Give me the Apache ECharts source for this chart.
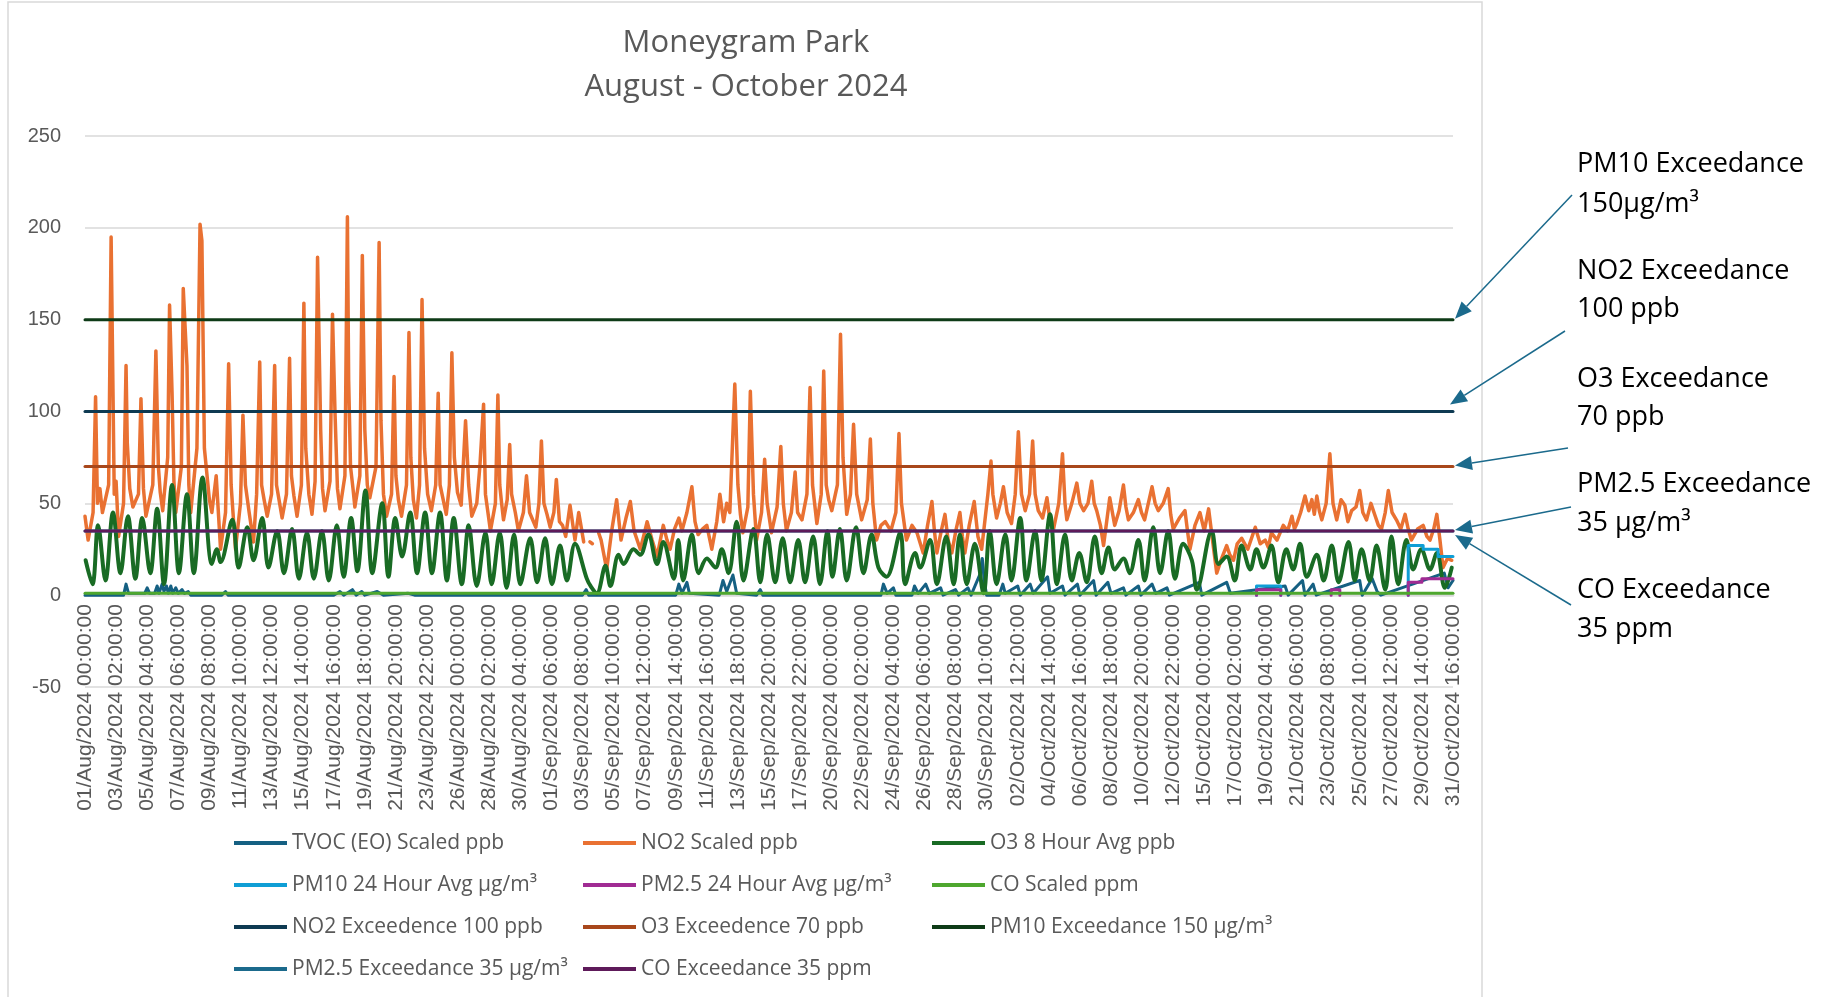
<!DOCTYPE html>
<html>
<head>
<meta charset="utf-8">
<script src="https://cdn.jsdelivr.net/npm/echarts@6.0.0/dist/echarts.min.js"></script>
<style>
  html, body { margin: 0; padding: 0; background: #fff; }
  #main { width: 1840px; height: 997px; }
</style>
</head>
<body>
<div id="main"></div>
<script>
// hours counted from 01/Aug/2024 00:00, one label every 50 hours
var tickLabels = [
  '01/Aug/2024 00:00:00', '03/Aug/2024 02:00:00', '05/Aug/2024 04:00:00', '07/Aug/2024 06:00:00', '09/Aug/2024 08:00:00',
  '11/Aug/2024 10:00:00', '13/Aug/2024 12:00:00', '15/Aug/2024 14:00:00', '17/Aug/2024 16:00:00', '19/Aug/2024 18:00:00',
  '21/Aug/2024 20:00:00', '23/Aug/2024 22:00:00', '26/Aug/2024 00:00:00', '28/Aug/2024 02:00:00', '30/Aug/2024 04:00:00',
  '01/Sep/2024 06:00:00', '03/Sep/2024 08:00:00', '05/Sep/2024 10:00:00', '07/Sep/2024 12:00:00', '09/Sep/2024 14:00:00',
  '11/Sep/2024 16:00:00', '13/Sep/2024 18:00:00', '15/Sep/2024 20:00:00', '17/Sep/2024 22:00:00', '20/Sep/2024 00:00:00',
  '22/Sep/2024 02:00:00', '24/Sep/2024 04:00:00', '26/Sep/2024 06:00:00', '28/Sep/2024 08:00:00', '30/Sep/2024 10:00:00',
  '02/Oct/2024 12:00:00', '04/Oct/2024 14:00:00', '06/Oct/2024 16:00:00', '08/Oct/2024 18:00:00', '10/Oct/2024 20:00:00',
  '12/Oct/2024 22:00:00', '15/Oct/2024 00:00:00', '17/Oct/2024 02:00:00', '19/Oct/2024 04:00:00', '21/Oct/2024 06:00:00',
  '23/Oct/2024 08:00:00', '25/Oct/2024 10:00:00', '27/Oct/2024 12:00:00', '29/Oct/2024 14:00:00', '31/Oct/2024 16:00:00'
];
var labelStep = 50;
var lastHour = 2200;

// [hour, value]
var no2 = [
  [0,43],[5,30],[13,45],[17,108],[20,50],[24,58],[28,45],[38,60],[42,195],[47,55],[50,62],[54,32],[62,50],[66,125],[68,83],[72,58],[77,48],
  [86,55],[90,107],[94,58],[98,43],[109,60],[114,133],[118,70],[121,56],[125,46],[133,75],[136,158],[140,110],[143,62],[146,45],[155,70],[158,167],
  [164,125],[167,60],[170,45],[180,80],[185,202],[188,193],[192,80],[196,66],[200,52],[204,45],[211,65],[218,25],[226,45],[231,126],[235,60],[238,45],[242,25],
  [250,50],[254,98],[258,60],[264,45],[271,29],[276,55],[281,127],[284,60],[288,52],[293,43],[300,55],[305,125],[308,60],[312,52],[317,42],[324,55],[329,129],[332,65],[336,54],[341,43],
  [348,60],[352,159],[355,80],[360,55],[365,44],[370,62],[374,184],[379,90],[382,58],[386,46],[394,62],[398,153],[402,100],[406,58],[410,47],[418,65],[422,206],[424,117],[427,70],[431,58],[434,48],
  [442,65],[446,185],[450,90],[454,60],[458,53],[468,70],[473,192],[476,95],[480,55],[485,43],[493,55],[497,119],[500,65],[504,52],[509,43],[517,60],[521,143],[524,75],[528,52],[533,42],[538,60],[542,161],
  [546,80],[551,55],[557,46],[564,60],[568,110],[571,60],[576,52],[581,44],[586,60],[590,132],[594,75],[599,56],[605,49],[612,95],[617,60],[622,43],[630,50],[635,70],[641,104],
  [644,55],[648,45],[652,35],[660,50],[664,109],[667,60],[670,50],[673,41],[679,52],[683,82],[686,55],[692,45],[697,35],[705,45],[710,65],[715,45],[725,37],[730,50],[734,84],[738,50],
  [743,44],[748,37],[754,45],[758,63],[763,40],[768,38],[773,32],[780,49],[788,30],[794,45],[802,29],[806,'-'],[812,29],[816,28],[818,'-'],[826,34],
  [830,30],[839,14],[847,35],[855,52],[862,30],[870,42],[877,51],[883,35],[893,25],[899,33],[904,40],[912,30],[920,21],[930,38],[936,30],[941,25],
  [948,36],[955,42],[960,35],[968,45],[976,59],[981,40],[986,33],[993,36],[1000,38],[1008,25],[1016,40],[1021,55],[1027,40],[1032,50],[1037,45],[1045,115],[1050,60],
  [1054,44],[1058,34],[1066,48],[1070,111],[1075,55],[1080,30],[1088,45],[1093,74],[1097,50],[1104,34],[1113,48],[1119,81],[1123,50],[1128,35],[1136,45],[1142,67],[1146,45],
  [1153,41],[1161,55],[1166,113],[1170,60],[1177,39],[1184,55],[1188,122],[1192,60],[1196,52],[1201,46],[1210,60],[1215,142],[1219,75],[1225,44],[1231,55],[1236,93],[1241,55],
  [1249,41],[1258,52],[1263,85],[1267,50],[1273,30],[1280,38],[1287,40],[1296,35],[1304,45],[1309,88],[1313,50],[1321,30],[1330,38],[1338,34],[1348,23],[1355,38],[1362,51],
  [1366,35],[1370,23],[1377,35],[1383,44],[1388,30],[1394,23],[1401,36],[1407,45],[1411,32],[1415,23],[1422,38],[1430,51],[1436,32],[1442,25],[1452,55],[1457,73],[1460,55],[1466,42],[1472,50],[1477,59],
  [1483,45],[1490,39],[1496,55],[1501,89],[1506,55],[1512,46],[1519,55],[1524,84],[1528,55],[1533,46],[1540,42],[1547,53],[1552,40],[1557,35],[1566,50],[1572,77],[1576,50],[1579,41],
  [1587,50],[1595,61],[1600,50],[1606,46],[1613,50],[1619,62],[1623,50],[1627,46],[1633,38],[1638,27],[1643,40],[1648,53],[1656,38],[1663,46],[1670,60],[1674,48],[1678,41],[1686,45],[1694,52],[1699,45],[1704,41],[1710,50],[1716,59],
  [1721,50],[1726,46],[1734,50],[1742,58],[1746,44],[1750,36],[1760,42],[1769,46],[1773,35],[1777,25],[1785,38],[1793,45],[1800,35],[1807,47],[1814,28],[1820,12],[1828,20],[1836,27],[1841,22],[1847,19],[1853,28],[1860,31],[1870,25],[1882,37],
  [1890,28],[1898,30],[1903,26],[1908,34],[1917,30],[1927,38],[1934,35],[1941,43],[1945,36],[1949,39],[1955,45],[1962,54],[1968,46],[1973,52],[1977,44],[1981,54],[1985,46],[1989,41],[1996,50],[2002,77],[2007,50],[2013,41],[2020,52],[2026,49],
  [2031,40],[2037,46],[2044,48],[2050,57],[2055,45],[2061,41],[2068,50],[2075,43],[2080,38],[2085,36],[2091,45],[2096,57],[2102,45],[2109,41],[2116,36],[2123,44],[2128,36],[2133,30],[2143,36],[2152,38],[2158,32],[2163,30],[2169,36],[2174,44],
  [2179,30],[2184,15],[2191,20],[2198,19]
];

var o3 = [
  [1,19],[12,6],[21,38],[33,8],[45,45],[57,12],[69,43],[81,9],[92,42],[105,12],[116,47],[127,6],[140,60],[151,12],[164,55],
  [175,12],[189,64],[204,17],[212,25],[218,18],[237,41],[247,15],[261,37],[271,19],[285,42],[295,15],[309,35],[320,12],
  [333,36],[344,9],[357,34],[368,9],[381,35],[392,8],[405,38],[416,10],[428,42],[438,13],[451,57],[462,12],[478,50],[488,10],
  [499,42],[510,21],[523,45],[534,12],[547,45],[558,12],[571,45],[582,8],[593,42],[606,6],[617,38],[630,5],[644,34],[654,6],
  [667,34],[678,4],[690,33],[700,6],[716,31],[727,7],[740,31],[751,6],[764,27],[775,8],[788,28],[807,9],[813,5],[823,1],
  [837,16],[845,5],[858,22],[866,17],[882,25],[893,22],[906,33],[920,17],[930,29],[947,9],[954,30],[962,8],[976,33],[987,12],
  [1000,20],[1014,15],[1024,25],[1035,12],[1048,40],[1059,8],[1075,36],[1086,7],[1097,33],[1110,7],[1122,31],[1134,7],
  [1147,30],[1158,7],[1171,32],[1182,6],[1194,35],[1202,10],[1214,36],[1225,8],[1240,37],[1252,12],[1265,33],[1276,15],
  [1289,10],[1311,34],[1319,6],[1335,23],[1343,15],[1359,30],[1370,6],[1385,32],[1397,6],[1407,33],[1418,6],[1431,28],
  [1445,1],[1455,35],[1466,6],[1480,33],[1490,8],[1504,42],[1514,8],[1528,35],[1538,8],[1552,44],[1563,6],[1576,33],[1587,8],
  [1599,23],[1611,7],[1624,32],[1635,12],[1646,26],[1656,14],[1670,20],[1680,12],[1694,30],[1704,8],[1718,37],[1729,12],
  [1742,35],[1753,9],[1766,28],[1780,19],[1788,3],[1812,35],[1823,17],[1836,21],[1849,8],[1860,27],[1874,14],[1884,25],
  [1895,15],[1908,27],[1919,7],[1932,25],[1943,14],[1954,28],[1965,10],[1981,22],[1992,8],[2005,27],[2016,7],[2032,29],
  [2042,8],[2053,25],[2066,8],[2077,27],[2091,3],[2101,32],[2112,6],[2125,30],[2136,14],[2149,25],[2163,14],[2174,23],
  [2187,4],[2198,15]
];

var tvoc = [
  [0,0],[62,0],[66,6],[70,1],[96,1],[100,4],[104,1],[112,1],[116,5],[119,1],[124,6],[127,2],[131,5],[134,1],[138,5],[141,1],
  [146,4],[150,1],[156,3],[160,1],[166,2],[170,0],[220,0],[226,2],[230,0],[400,0],[410,2],[416,0],[430,3],[436,0],[445,2],
  [450,0],[470,2],[480,0],[520,1],[530,0],[800,0],[806,3],[810,0],[950,0],[955,6],[960,1],[968,7],[972,1],[1020,0],[1026,8],
  [1032,2],[1042,11],[1048,1],[1080,0],[1086,3],[1090,0],[1280,0],[1284,6],[1290,1],[1300,4],[1304,0],[1330,0],[1334,5],
  [1340,1],[1352,6],[1358,1],[1376,4],[1380,0],[1400,3],[1405,0],[1420,4],[1425,0],[1440,12],[1443,20],[1446,8],[1450,0],
  [1470,0],[1476,6],[1480,1],[1500,5],[1504,0],[1520,6],[1525,1],[1548,10],[1552,1],[1572,5],[1576,0],[1596,6],[1600,0],
  [1622,8],[1626,0],[1645,7],[1650,1],[1670,4],[1674,0],[1694,5],[1698,0],[1716,6],[1722,1],[1740,4],[1744,0],[1792,7],
  [1796,0],[1836,7],[1842,1],[1930,5],[1935,0],[1958,8],[1962,0],[1975,6],[1980,0],[2050,8],[2054,0],[2070,9],[2078,2],
  [2084,0],[2186,12],[2192,4],[2200,8]
];

var pm10 = [[1884,0],[1884,5],[1923,5],[1923,0],[1924,'-'],[2128,0],[2128,27],[2152,27],[2152,25],[2176,25],[2176,21],[2200,21]];
var pm25 = [[1884,0],[1884,3],[1923,3],[1923,0],[1924,'-'],[2004,0],[2004,3],[2018,3],[2018,0],[2019,'-'],
            [2128,0],[2128,7],[2150,7],[2150,9],[2200,9]];
var co = [[0,1],[550,1],[1100,1],[1650,1],[2200,1]];

var limitNames = ['NO2 Exceedence 100 ppb', 'O3 Exceedence 70 ppb', 'PM10 Exceedance 150 µg/m³',
                  'PM2.5 Exceedance 35 µg/m³', 'CO Exceedance 35 ppm'];
var limitValues = [100, 70, 150, 35, 35];
var limitColors = ['#0E3A52', '#A8471B', '#0E3B17', '#1B6A8C', '#5E1A5A'];

var myChart = echarts.init(document.getElementById('main'));

function line(name, data, color, width, extra) {
    var s = {
        name: name, type: 'line', data: data, symbol: 'none', color: color,
        lineStyle: { width: width, color: color, cap: 'round', join: 'round' },
        connectNulls: false, silent: true
    };
    for (var k in extra) s[k] = extra[k];
    return s;
}

var series = [
    line('TVOC (EO) Scaled ppb', tvoc, '#156082', 3),
    line('NO2 Scaled ppb', no2, '#E97132', 3.5),
    line('O3 8 Hour Avg ppb', o3, '#196B24', 4, { smooth: 0.35 }),
    line('PM10 24 Hour Avg µg/m³', pm10, '#0F9ED5', 3),
    line('PM2.5 24 Hour Avg µg/m³', pm25, '#A02B93', 3),
    line('CO Scaled ppm', co, '#4EA72E', 3)
];
for (var i = 0; i < limitNames.length; i++) {
    series.push(line(limitNames[i], [[0, limitValues[i]], [lastHour, limitValues[i]]], limitColors[i], 3));
}

function legendCol(left, names) {
    return {
        orient: 'vertical', left: left, top: 826, itemWidth: 53, itemHeight: 4, itemGap: 18,
        icon: 'rect', selectedMode: false,
        textStyle: { color: '#595959', fontSize: 21, fontFamily: 'Open Sans', lineHeight: 24 },
        data: names
    };
}

var gridTop = 136, gridBottom = 310;
var plotHeight = 997 - gridTop - gridBottom;

var option = {
    animation: false,
    backgroundColor: '#fff',
    title: {
        text: 'Moneygram Park\nAugust - October 2024',
        left: 741, top: 16, textAlign: 'center',
        textStyle: { color: '#595959', fontSize: 31, fontWeight: 'normal', fontFamily: 'Open Sans', lineHeight: 44 }
    },
    legend: [
        legendCol(229, ['TVOC (EO) Scaled ppb', 'PM10 24 Hour Avg µg/m³', 'NO2 Exceedence 100 ppb', 'PM2.5 Exceedance 35 µg/m³']),
        legendCol(578, ['NO2 Scaled ppb', 'PM2.5 24 Hour Avg µg/m³', 'O3 Exceedence 70 ppb', 'CO Exceedance 35 ppm']),
        legendCol(927, ['O3 8 Hour Avg ppb', 'CO Scaled ppm', 'PM10 Exceedance 150 µg/m³'])
    ],
    grid: { left: 85, right: 387, top: gridTop, bottom: gridBottom, containLabel: false, outerBoundsMode: 'none' },
    xAxis: {
        type: 'value', min: 0, max: lastHour, interval: labelStep,
        // axis sits on the zero line: 50 of the 300 units above the bottom
        offset: -plotHeight / 6,
        axisLine: { onZero: false, lineStyle: { color: '#d9d9d9', width: 2.5 } },
        axisTick: { show: false },
        splitLine: { show: false },
        axisLabel: {
            rotate: 90, margin: 9, color: '#595959', fontSize: 21, fontFamily: 'Liberation Sans',
            showMinLabel: true, showMaxLabel: true,
            formatter: function (v) { return tickLabels[Math.round(v / labelStep)] || ''; }
        }
    },
    yAxis: {
        type: 'value', min: -50, max: 250, interval: 50,
        axisLine: { show: false }, axisTick: { show: false },
        axisLabel: { margin: 24, color: '#595959', fontSize: 20, fontFamily: 'Liberation Sans' },
        splitLine: { lineStyle: { color: '#d9d9d9', width: 1.5 } }
    },
    series: series
};
myChart.setOption(option);

// call-outs on the right, arrows end at the limit lines
var notes = [
    { lines: ['PM10 Exceedance', '150µg/m³'], ys: [164, 204], from: [1572, 195], level: 150, dx: 2, dy: -1 },
    { lines: ['NO2 Exceedance', '100 ppb'], ys: [271, 309], from: [1565, 331], level: 100, dx: -3, dy: -7 },
    { lines: ['O3 Exceedance', '70 ppb'], ys: [379, 417], from: [1568, 448], level: 70, dx: 2, dy: -1 },
    { lines: ['PM2.5 Exceedance', '35 µg/m³'], ys: [484, 523], from: [1571, 507], level: 35, dx: 2, dy: -1 },
    { lines: ['CO Exceedance', '35 ppm'], ys: [590, 629], from: [1571, 605], level: 35, dx: 2, dy: 4 }
];
var arrowColor = '#1B6A8C';
var graphics = [{
    type: 'rect', silent: true, z: -10,
    shape: { x: 8, y: 2, width: 1474, height: 1010 },
    style: { fill: 'none', stroke: '#d9d9d9', lineWidth: 1.5 }
}];
notes.forEach(function (n) {
    n.lines.forEach(function (t, j) {
        graphics.push({
            type: 'text', x: 1577, y: n.ys[j], silent: true,
            style: { text: t, fill: '#000', font: '27px "Open Sans"', verticalAlign: 'middle' }
        });
    });
    var end = myChart.convertToPixel({ gridIndex: 0 }, [lastHour, n.level]);
    var tip = [end[0] + n.dx, end[1] + n.dy];
    var ux = n.from[0] - tip[0], uy = n.from[1] - tip[1];
    var len = Math.sqrt(ux * ux + uy * uy);
    ux /= len; uy /= len;
    var bx = tip[0] + ux * 17, by = tip[1] + uy * 17;
    graphics.push({
        type: 'line', silent: true,
        shape: { x1: n.from[0], y1: n.from[1], x2: bx, y2: by },
        style: { stroke: arrowColor, lineWidth: 1.5 }
    });
    graphics.push({
        type: 'polygon', silent: true,
        shape: { points: [tip, [bx - uy * 7, by + ux * 7], [bx + uy * 7, by - ux * 7]] },
        style: { fill: arrowColor }
    });
});
myChart.setOption({ graphic: graphics });
</script>
</body>
</html>
